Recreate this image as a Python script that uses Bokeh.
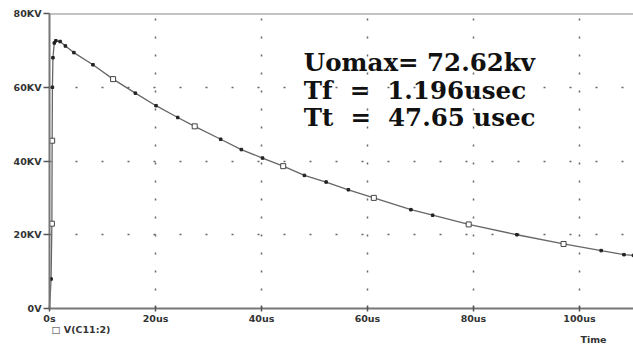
from bokeh.plotting import figure
from bokeh.models import Range1d, FixedTicker, Label, Span, Title
from bokeh.embed import file_html
from bokeh.resources import INLINE

# time in microseconds, voltage in kV
t_us = [0.0, 0.3, 0.45, 0.5, 0.55, 0.65, 0.9, 1.2, 2.0, 3.0, 4.6, 8.2, 12.0, 16.2, 20.1,
        24.2, 27.4, 32.3, 36.2, 40.2, 44.1, 48.1, 52.2, 56.4, 61.2, 68.2, 72.3, 79.1,
        88.2, 97.0, 104.1, 108.4, 110.2]
v_kv = [0.0, 8.0, 23.0, 45.5, 60.0, 68.0, 72.0, 72.6, 72.4, 71.2, 69.4, 66.1, 62.2, 58.4, 55.0,
        51.8, 49.4, 45.9, 43.1, 40.8, 38.6, 36.1, 34.3, 32.2, 30.0, 26.8, 25.3, 22.8,
        20.0, 17.5, 15.7, 14.6, 14.4]
sq_t = [0.45, 0.5, 12.0, 27.4, 44.1, 61.2, 79.1, 97.0]
sq_v = [23.0, 45.5, 62.2, 49.4, 38.6, 30.0, 22.8, 17.5]

x_ticks = [0, 20, 40, 60, 80, 100]
x_labels = ["0s", "20us", "40us", "60us", "80us", "100us"]
y_ticks = [0, 20, 40, 60, 80]
y_labels = ["0V", "20KV", "40KV", "60KV", "80KV"]

NB = "\u00a0"
notes = ["Uomax= 72.62kv",
         "Tf" + NB * 2 + "=" + NB * 2 + "1.196usec",
         "Tt" + NB * 2 + "=" + NB * 2 + "47.65 usec"]
legend_text = "\u25a1 V(C11:2)"
x_title = "Time"

p = figure(width=633, height=351, output_backend="svg", toolbar_location=None,
           x_range=Range1d(0, 110.2), y_range=Range1d(0, 80),
           min_border_left=49, min_border_right=0, min_border_top=13, min_border_bottom=43)
p.outline_line_color = None
p.background_fill_color = "white"
p.border_fill_color = "white"

axfont = "DejaVu Sans"
for ax, ticks, labels in ((p.xaxis[0], x_ticks, x_labels), (p.yaxis[0], y_ticks, y_labels)):
    ax.ticker = FixedTicker(ticks=ticks)
    ax.major_label_overrides = {t: l for t, l in zip(ticks, labels)}
    ax.axis_line_color = "#777777"
    ax.axis_line_width = 2
    ax.major_tick_line_color = "#555555"
    ax.major_tick_line_width = 1.5
    ax.minor_tick_line_color = None
    ax.major_label_text_font = axfont
    ax.major_label_text_font_style = "bold"
    ax.major_label_text_font_size = "9.5px"
    ax.major_label_text_color = "#333333"
p.xaxis.major_tick_in = 3
p.xaxis.major_tick_out = 3
p.xaxis.major_label_standoff = 1
p.yaxis.major_tick_in = 0
p.yaxis.major_tick_out = 6
p.yaxis.major_label_standoff = 2

p.xgrid.ticker = FixedTicker(ticks=x_ticks)
p.ygrid.ticker = FixedTicker(ticks=y_ticks)
p.xgrid.grid_line_color = "#666666"
p.xgrid.grid_line_width = 1.5
p.xgrid.grid_line_dash = "2 16"
p.ygrid.grid_line_color = "#666666"
p.ygrid.grid_line_width = 1.5
p.ygrid.grid_line_dash = "2 24"

p.add_layout(Span(location=80, dimension="width", line_color="#888888", line_width=2))

p.line(t_us, v_kv, line_color="#666666", line_width=1.3)
p.scatter(t_us[1:], v_kv[1:], size=2.5, marker="square", color="#222222")
p.scatter(sq_t, sq_v, size=5, marker="square", fill_color="white",
          line_color="#444444", line_width=1)

for i, s in enumerate(notes):
    p.add_layout(Label(x=48.0, y=66.7 - i * 7.45, text=s, text_font="DejaVu Serif",
                       text_font_style="bold", text_font_size="24.5px", text_color="#111111",
                       text_baseline="alphabetic"))

p.add_layout(Title(text=legend_text, align="left", offset=2, standoff=-9,
                   text_font=axfont, text_font_style="bold", text_font_size="9.5px",
                   text_color="#333333"), "below")
p.add_layout(Title(text=x_title, align="right", offset=27, standoff=3,
                   text_font=axfont, text_font_style="bold", text_font_size="9.5px",
                   text_color="#333333"), "below")

open("out.html", "w").write(file_html(p, INLINE))
